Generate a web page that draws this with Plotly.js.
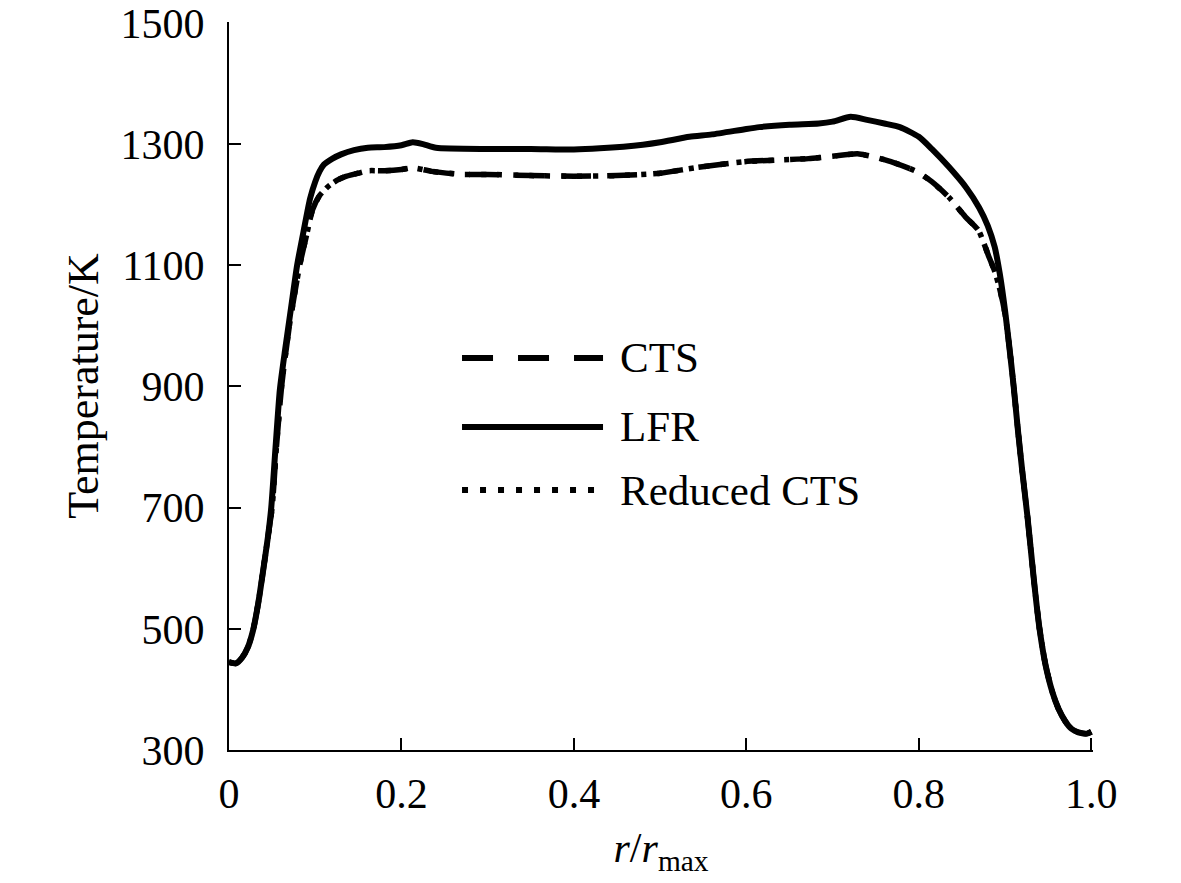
<!DOCTYPE html>
<html>
<head>
<meta charset="utf-8">
<script src="https://cdn.plot.ly/plotly-3.0.1.min.js"></script>
<style>
  html, body { margin: 0; padding: 0; background: #fff; }
  #chart { width: 1181px; height: 883px; }
</style>
</head>
<body>
<div id="chart"></div>
<script>
// r / r_max positions and temperatures (K)
var lfrX = [0, 0.008, 0.015, 0.022, 0.028, 0.034, 0.040, 0.045, 0.049, 0.054, 0.059, 0.065,
            0.072, 0.079, 0.087, 0.094, 0.100, 0.105, 0.110, 0.120, 0.130, 0.145, 0.161, 0.18, 0.20,
            0.213, 0.225, 0.24, 0.30, 0.35, 0.40, 0.43, 0.48, 0.50, 0.534, 0.56, 0.60, 0.615,
            0.65, 0.684, 0.70, 0.721, 0.74, 0.76, 0.778, 0.80, 0.815, 0.835, 0.855, 0.870,
            0.880, 0.888, 0.894, 0.900, 0.905, 0.910, 0.915, 0.920, 0.926, 0.931, 0.935, 0.940, 0.947,
            0.955, 0.962, 0.970, 0.977, 0.985, 0.995, 1.0];
var lfrT = [445, 443, 452, 470, 498, 543, 600, 650, 700, 800, 895, 960,
            1030, 1100, 1160, 1210, 1238, 1255, 1266, 1276, 1283, 1290, 1294, 1295, 1298,
            1303, 1300, 1294, 1292, 1292, 1291, 1293, 1299, 1303, 1312, 1316, 1325, 1328,
            1332, 1334, 1337, 1345, 1340, 1334, 1328, 1312, 1292, 1262, 1228, 1195,
            1165, 1130, 1085, 1025, 965, 900, 827, 760, 685, 615, 560, 500, 440,
            395, 368, 347, 335, 329, 327, 330];

var ctsX = [0, 0.008, 0.015, 0.022, 0.028, 0.034, 0.040, 0.045, 0.050, 0.055, 0.061, 0.070,
            0.082, 0.090, 0.097, 0.105, 0.115, 0.125, 0.134, 0.150, 0.161, 0.18, 0.20, 0.213,
            0.235, 0.27, 0.30, 0.35, 0.40, 0.45, 0.50, 0.541, 0.598, 0.64, 0.672, 0.70, 0.729,
            0.75, 0.77, 0.797, 0.815, 0.835, 0.854, 0.869, 0.881, 0.888, 0.894, 0.900, 0.905,
            0.910, 0.915, 0.920, 0.926, 0.931, 0.935, 0.940, 0.947, 0.955, 0.962, 0.970, 0.977,
            0.985, 0.995, 1.0];
var ctsT = [445, 443, 452, 470, 498, 543, 600, 650, 700, 800, 900, 1000,
            1100, 1150, 1192, 1215, 1230, 1240, 1246, 1252, 1256, 1256, 1258, 1261,
            1255, 1250, 1250, 1248, 1247, 1248, 1252, 1261, 1271, 1274, 1276, 1280, 1284,
            1278, 1270, 1255, 1238, 1212, 1180, 1158, 1115, 1090, 1060, 1020, 965,
            900, 827, 760, 685, 615, 560, 500, 440, 395, 368, 347, 335,
            329, 327, 330];

var reducedX = [0, 0.008, 0.015, 0.022, 0.028, 0.034, 0.040, 0.045, 0.050, 0.055, 0.061, 0.070,
                0.082, 0.090, 0.097, 0.105, 0.115, 0.125, 0.134, 0.150, 0.161, 0.18, 0.20, 0.213,
                0.235, 0.27, 0.30, 0.35, 0.40, 0.45, 0.50, 0.541, 0.598, 0.64, 0.672, 0.70, 0.729,
                0.75, 0.77, 0.797, 0.815, 0.835, 0.854, 0.869, 0.881, 0.888, 0.894, 0.900, 0.905,
                0.910, 0.915, 0.920, 0.926, 0.931, 0.935, 0.940, 0.947, 0.955, 0.962, 0.970, 0.977,
                0.985, 0.995, 1.0];
var reducedT = [445, 443, 452, 470, 498, 543, 600, 650, 700, 800, 900, 1000,
                1100, 1150, 1192, 1215, 1230, 1240, 1246, 1252, 1256, 1256, 1258, 1261,
                1255, 1250, 1250, 1248, 1247, 1248, 1252, 1261, 1271, 1274, 1276, 1280, 1284,
                1278, 1270, 1255, 1238, 1212, 1180, 1158, 1115, 1090, 1060, 1020, 965,
                900, 827, 760, 685, 615, 560, 500, 440, 395, 368, 347, 335,
                329, 327, 330];

var xTicks = [0, 0.2, 0.4, 0.6, 0.8, 1.0];
var xTickText = ['0', '0.2', '0.4', '0.6', '0.8', '1.0'];
var yTicks = [300, 500, 700, 900, 1100, 1300, 1500];

var serif = 'Liberation Serif, Times New Roman, serif';

var traceCTS = {
  x: ctsX, y: ctsT, name: 'CTS', type: 'scatter', mode: 'lines',
  line: { color: '#000', width: 5.5, dash: '30px,16px', shape: 'spline', smoothing: 0.6 },
  showlegend: false
};
var traceReduced = {
  x: reducedX, y: reducedT, name: 'Reduced CTS', type: 'scatter', mode: 'lines',
  line: { color: '#000', width: 5.5, dash: '5px,11px', shape: 'spline', smoothing: 0.6 },
  showlegend: false
};
var traceLFR = {
  x: lfrX, y: lfrT, name: 'LFR', type: 'scatter', mode: 'lines',
  line: { color: '#000', width: 6, shape: 'spline', smoothing: 0.6 },
  showlegend: false
};

// hand-made legend so the line samples are as long as in the figure
var legendY = [0.5385, 0.4437, 0.3571];
var shapes = [
  { type: 'line', xref: 'paper', yref: 'paper', x0: 0.2697, x1: 0.4329, y0: legendY[0], y1: legendY[0],
    line: { color: '#000', width: 6, dash: '31px,25px' } },
  { type: 'line', xref: 'paper', yref: 'paper', x0: 0.2697, x1: 0.4329, y0: legendY[1], y1: legendY[1],
    line: { color: '#000', width: 6 } },
  { type: 'line', xref: 'paper', yref: 'paper', x0: 0.2697, x1: 0.4329, y0: legendY[2], y1: legendY[2],
    line: { color: '#000', width: 6, dash: '6px,12px' } }
];
var legendNames = ['CTS', 'LFR', 'Reduced CTS'];
var annotations = legendNames.map(function (n, i) {
  return { text: n, xref: 'paper', yref: 'paper', x: 0.450, y: legendY[i],
           xanchor: 'left', yanchor: 'middle', showarrow: false,
           font: { family: serif, size: 43, color: '#000' } };
});

var layout = {
  width: 1181,
  height: 883,
  margin: { l: 229, r: 88, t: 22, b: 133 },
  paper_bgcolor: '#fff',
  plot_bgcolor: '#fff',
  font: { family: serif, size: 42, color: '#000' },
  xaxis: {
    range: [0, 1.002],
    tickvals: xTicks,
    ticktext: xTickText,
    ticks: 'inside', ticklen: 12, tickwidth: 2, tickcolor: '#000',
    showline: true, linewidth: 2, linecolor: '#000',
    showgrid: false, zeroline: false,
    ticklabelstandoff: 6,
    ticklabeloverflow: 'allow',
    tickfont: { family: serif, size: 42, color: '#000' },
    title: { text: '<i>r</i>/<i>r</i><sub>max</sub>', font: { family: serif, size: 42, color: '#000' }, standoff: 16 }
  },
  yaxis: {
    range: [300, 1501.5],
    tickvals: yTicks,
    ticks: 'inside', ticklen: 12, tickwidth: 2, tickcolor: '#000',
    showline: true, linewidth: 2, linecolor: '#000',
    showgrid: false, zeroline: false,
    ticklabelstandoff: 14,
    ticklabeloverflow: 'allow',
    tickfont: { family: serif, size: 42, color: '#000' },
    title: { text: 'Temperature/K', font: { family: serif, size: 44, color: '#000' }, standoff: 8 }
  },
  shapes: shapes,
  annotations: annotations,
  showlegend: false
};

var config = { staticPlot: true };

Plotly.newPlot('chart', [traceCTS, traceReduced, traceLFR], layout, config);
</script>
</body>
</html>
